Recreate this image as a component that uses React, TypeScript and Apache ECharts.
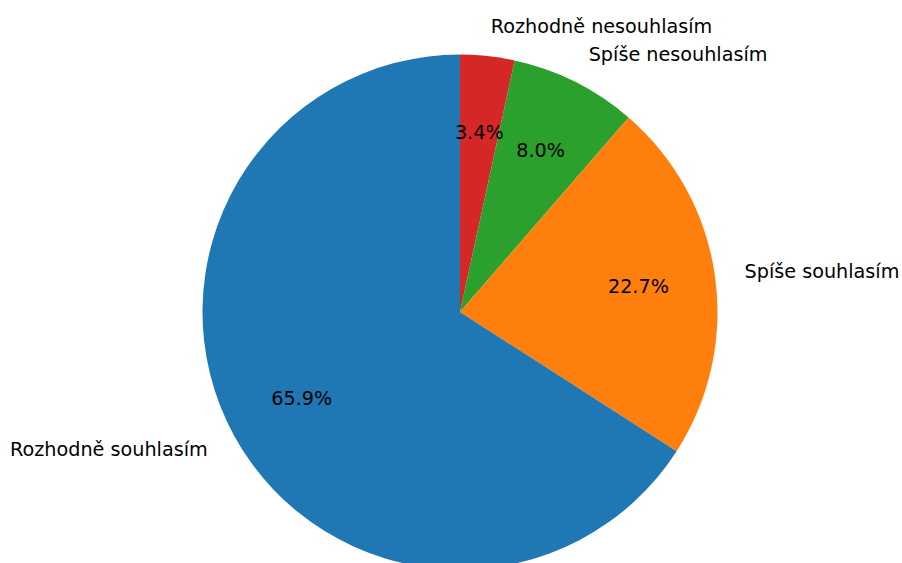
import React, { useEffect, useRef } from "react";
import * as echarts from "echarts";

const categories = [
  "Rozhodně nesouhlasím",
  "Spíše nesouhlasím",
  "Spíše souhlasím",
  "Rozhodně souhlasím",
];
const counts = [3, 7, 20, 58];
const colors = ["#d62728", "#2ca02c", "#ff7f0e", "#1f77b4"];

const total = counts.reduce((a, b) => a + b, 0);
const FONT = "DejaVu Sans";
const R = 257.5;
const CENTER = [460, 312];

export default function App() {
  const ref = useRef<HTMLDivElement>(null);
  useEffect(() => {
    document.body.style.margin = "0";
    const chart = echarts.init(ref.current!, null, { renderer: "svg" });
    const data = categories.map((name, i) => ({
      name,
      value: counts[i],
      itemStyle: { color: colors[i] },
    }));
    chart.setOption({
      animation: false,
      backgroundColor: "#fff",
      series: [
        {
          type: "pie",
          center: CENTER,
          radius: [0, R],
          startAngle: 90,
          clockwise: true,
          avoidLabelOverlap: false,
          silent: true,
          emphasis: { disabled: true },
          itemStyle: { borderWidth: 0 },
          label: {
            show: true,
            position: "outside",
            formatter: "{b}",
            color: "#000",
            fontFamily: FONT,
            fontSize: 19.2,
            distanceToLabelLine: 0,
          },
          labelLine: { show: false, length: 30, length2: 0 },
          data,
        },
        {
          type: "pie",
          center: CENTER,
          radius: [97, R],
          startAngle: 90,
          clockwise: true,
          avoidLabelOverlap: false,
          silent: true,
          emphasis: { disabled: true },
          itemStyle: { color: "rgba(0,0,0,0)", borderWidth: 0 },
          label: {
            show: true,
            position: "inside",
            formatter: (p: any) => ((p.value / total) * 100).toFixed(1) + "%",
            color: "#000",
            fontFamily: FONT,
            fontSize: 19.2,
          },
          labelLine: { show: false },
          data: categories.map((name, i) => ({ name, value: counts[i] })),
        },
      ],
    });
    return () => chart.dispose();
  }, []);
  return (
    <div
      ref={ref}
      style={{ position: "absolute", left: 0, top: 0, width: 902, height: 563 }}
    />
  );
}
